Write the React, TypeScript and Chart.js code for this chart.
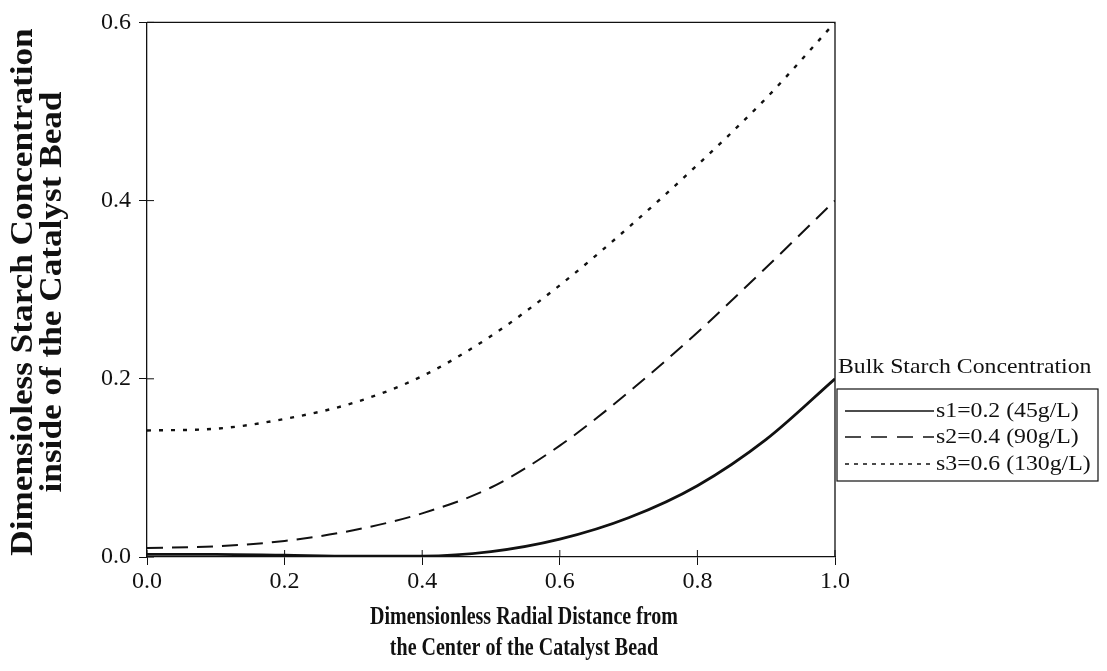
import React, { useEffect, useRef } from "react";
import { Chart, registerables } from "chart.js";

Chart.register(...registerables);

// ---- data ----
const radialDistance = [0, 0.1, 0.2, 0.3, 0.4, 0.5, 0.6, 0.7, 0.8, 0.9, 1.0];
const s1Values = [0.003, 0.003, 0.002, 0.001, 0.001, 0.006, 0.02, 0.044, 0.08, 0.132, 0.2];
const s2Values = [0.01, 0.012, 0.018, 0.03, 0.049, 0.078, 0.125, 0.185, 0.252, 0.325, 0.4];
const s3Values = [0.142, 0.144, 0.155, 0.173, 0.203, 0.248, 0.305, 0.37, 0.44, 0.515, 0.6];
const seriesLabels = ["s1=0.2 (45g/L)", "s2=0.4 (90g/L)", "s3=0.6 (130g/L)"];
const xTickValues = [0, 0.2, 0.4, 0.6, 0.8, 1.0];
const yTickValues = [0, 0.2, 0.4, 0.6];
const xTitleLines = ["Dimensionless Radial Distance from", "the Center of the Catalyst Bead"];
const yTitleLines = ["Dimensioless Starch Concentration", "inside of the Catalyst Bead"];
const legendTitle = "Bulk Starch Concentration";

// ---- styles ----
const W = 1107;
const H = 671;
const INK = "#111";
const SERIF = '"Liberation Serif", "Times New Roman", serif';
const PLOT = { left: 147, right: 835, top: 22, bottom: 557 };
const dashStyles: number[][] = [[], [16, 9], [4, 8]];
const lineWidths = [2.8, 2.0, 2.4];
const legendDash: number[][] = [[], [16, 10], [4, 5]];
const legendWidths = [1.6, 1.6, 1.3];

const decorPlugin = {
  id: "decor",
  afterDraw(chart: any) {
    const { ctx, chartArea, scales } = chart;
    const { left, right, top, bottom } = chartArea;
    ctx.save();
    ctx.strokeStyle = INK;
    ctx.fillStyle = INK;
    ctx.setLineDash([]);
    // frame top & right
    ctx.lineWidth = 1.3;
    ctx.beginPath();
    ctx.moveTo(left, top);
    ctx.lineTo(right, top);
    ctx.lineTo(right, bottom);
    ctx.stroke();
    // inner tick marks
    ctx.lineWidth = 1;
    ctx.beginPath();
    xTickValues.forEach((v) => {
      const x = scales.x.getPixelForValue(v);
      ctx.moveTo(x, bottom);
      ctx.lineTo(x, bottom - 7);
    });
    yTickValues.forEach((v) => {
      const y = scales.y.getPixelForValue(v);
      ctx.moveTo(left, y);
      ctx.lineTo(left + 7, y);
    });
    ctx.stroke();

    // y title (rotated, two lines)
    ctx.font = `bold 32px ${SERIF}`;
    ctx.textAlign = "center";
    ctx.textBaseline = "middle";
    yTitleLines.forEach((line, i) => {
      ctx.save();
      ctx.translate(24 + i * 29, 292);
      ctx.rotate(-Math.PI / 2);
      ctx.scale(1.1, 1);
      ctx.fillText(line, 0, 0);
      ctx.restore();
    });

    // x title (two lines)
    ctx.font = `bold 25px ${SERIF}`;
    xTitleLines.forEach((line, i) => {
      ctx.save();
      ctx.translate(524, 618 + i * 31);
      ctx.scale(0.8, 1);
      ctx.fillText(line, 0, 0);
      ctx.restore();
    });

    // legend
    ctx.font = `22px ${SERIF}`;
    ctx.textAlign = "left";
    ctx.save();
    ctx.translate(838, 367);
    ctx.scale(1.08, 1);
    ctx.fillText(legendTitle, 0, 0);
    ctx.restore();
    ctx.lineWidth = 1.2;
    ctx.strokeRect(837, 389, 261, 92);
    const rowY = [411, 437, 464];
    seriesLabels.forEach((label, i) => {
      ctx.save();
      ctx.lineWidth = legendWidths[i];
      ctx.setLineDash(legendDash[i]);
      ctx.beginPath();
      ctx.moveTo(845, rowY[i]);
      ctx.lineTo(934, rowY[i]);
      ctx.stroke();
      ctx.restore();
      ctx.save();
      ctx.translate(936, rowY[i]);
      ctx.scale(1.08, 1);
      ctx.fillText(label, 0, 0);
      ctx.restore();
    });
    ctx.restore();
  },
};

export default function App() {
  const canvasRef = useRef<HTMLCanvasElement | null>(null);

  useEffect(() => {
    const canvas = canvasRef.current;
    if (!canvas) return;
    const series = [s1Values, s2Values, s3Values];
    const chart = new Chart(canvas, {
      type: "line",
      data: {
        datasets: series.map((vals, i) => ({
          label: seriesLabels[i],
          data: radialDistance.map((x, j) => ({ x, y: vals[j] })),
          borderColor: INK,
          borderWidth: lineWidths[i],
          borderDash: dashStyles[i],
          pointRadius: 0,
          fill: false,
          cubicInterpolationMode: "monotone" as const,
        })),
      },
      options: {
        animation: false,
        responsive: false,
        events: [],
        layout: { padding: { top: PLOT.top, right: W - PLOT.right, left: 0, bottom: 0 } },
        plugins: {
          legend: { display: false },
          tooltip: { enabled: false },
          title: { display: false },
        },
        scales: {
          x: {
            type: "linear",
            min: 0,
            max: 1,
            afterFit: (s: any) => {
              s.height = H - PLOT.bottom;
            },
            afterBuildTicks: (s: any) => {
              s.ticks = xTickValues.map((v) => ({ value: v }));
            },
            ticks: {
              font: { family: SERIF, size: 24 },
              color: INK,
              padding: 2,
              maxRotation: 0,
              autoSkip: false,
              callback: (v: any) => Number(v).toFixed(1),
            },
            grid: { drawOnChartArea: false, tickLength: 8, color: INK, lineWidth: 1 },
            border: { color: INK, width: 1.3 },
          },
          y: {
            type: "linear",
            min: 0,
            max: 0.6,
            afterFit: (s: any) => {
              s.width = PLOT.left;
            },
            afterBuildTicks: (s: any) => {
              s.ticks = yTickValues.map((v) => ({ value: v }));
            },
            ticks: {
              font: { family: SERIF, size: 24 },
              color: INK,
              padding: 8,
              callback: (v: any) => Number(v).toFixed(1),
            },
            grid: { drawOnChartArea: false, tickLength: 8, color: INK, lineWidth: 1 },
            border: { color: INK, width: 1.3 },
          },
        },
      },
      plugins: [decorPlugin],
    });
    return () => chart.destroy();
  }, []);

  return (
    <div style={{ position: "absolute", left: 0, top: 0, width: W, height: H, background: "#fff" }}>
      <canvas ref={canvasRef} width={W} height={H} style={{ display: "block", width: W, height: H }} />
    </div>
  );
}
